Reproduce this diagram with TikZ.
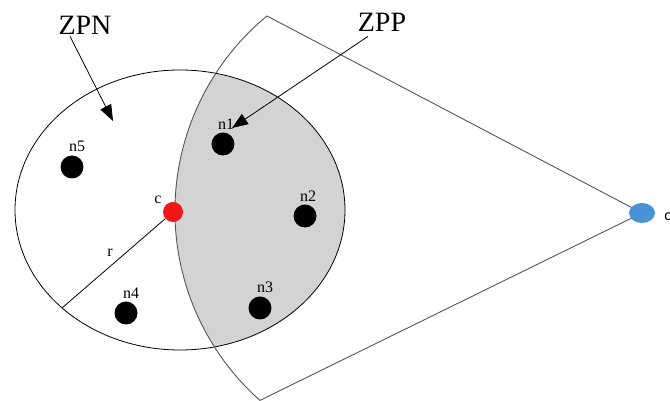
\documentclass[tikz,border=0pt]{standalone}
\usepackage{fontspec}
\setmainfont{Liberation Serif}
\newfontfamily\sinkfont{Carlito}
\usepackage{tikz}
\usetikzlibrary{arrows.meta,positioning,shapes.geometric}
\definecolor{zoneshade}{RGB}{211,211,211}
\definecolor{sectorline}{RGB}{85,85,85}
\definecolor{headred}{RGB}{238,24,24}
\definecolor{sinkblue}{RGB}{72,146,214}
\tikzset{
  sensor/.style={circle, fill=black, inner sep=0pt, minimum size=23pt},
  headnode/.style={circle, fill=headred, inner sep=0pt, minimum size=20pt},
  sinknode/.style={ellipse, fill=sinkblue, inner sep=0pt, minimum width=26pt, minimum height=20pt},
  nodelabel/.style={inner sep=0pt, font=\fontsize{16}{18}\selectfont},
  zonelabel/.style={inner sep=2pt, font=\fontsize{28}{30}\selectfont},
  pointer/.style={-{Triangle[length=16pt,width=12pt]}, line width=0.8pt},
  rangeline/.style={draw=black, line width=0.8pt},
  sectorborder/.style={draw=sectorline, line width=0.9pt}
}

\begin{document}
\begin{tikzpicture}[x=1pt, y=1pt, node distance=3pt]
\useasboundingbox (0,0) rectangle (670,401);

% overlap of range and sector
\begin{scope}
  \clip (180,191) ellipse [x radius=165, y radius=140];
  \fill[zoneshade] (428,190) circle [radius=253];
\end{scope}

% range of c and sector towards the sink
\coordinate (apex) at (642,188);
\coordinate (sectortop) at (267,385);
\draw[rangeline] (180,191) ellipse [x radius=165, y radius=140];
\draw[sectorborder] (apex) -- (sectortop) arc [start angle=129.5, end angle=228.4, radius=253] -- cycle;

% sensors
\node[sensor] (n1) at (223,257) {};
\node[sensor] (n2) at (305,185) {};
\node[sensor] (n3) at (260,93) {};
\node[sensor] (n4) at (126,88) {};
\node[sensor] (n5) at (72,234) {};
\node[headnode] (ch) at (173,189) {};
\node[sinknode] (sink) at (apex) {};

\node[nodelabel, above=of n1, xshift=3pt] {n1};
\node[nodelabel, above=of n2, xshift=3pt] {n2};
\node[nodelabel, above=of n3, xshift=5pt] {n3};
\node[nodelabel, above=of n4, xshift=5pt] {n4};
\node[nodelabel, above=of n5, xshift=5pt] {n5};
\node[nodelabel, above left=1pt and 4pt of ch] {c};
\node[nodelabel, font=\sinkfont\fontsize{16}{18}\selectfont, right=9pt of sink, yshift=-4pt] {c};

% radius
\coordinate (rim) at (62,93);
\draw[rangeline] (ch) -- (rim);
\node[nodelabel] (rlabel) at (110,148) {r};

% zone labels
\node[zonelabel] (zpn) at (85,376) {ZPN};
\node[zonelabel] (zpp) at (382,379) {ZPP};
\coordinate (zpntip) at (113,280);
\coordinate (zpptip) at (232,273);
\draw[pointer] ([xshift=-15pt]zpn.south) -- (zpntip);
\draw[pointer] ([xshift=-14pt,yshift=-3pt]zpp.south) -- (zpptip);
\end{tikzpicture}
\end{document}
